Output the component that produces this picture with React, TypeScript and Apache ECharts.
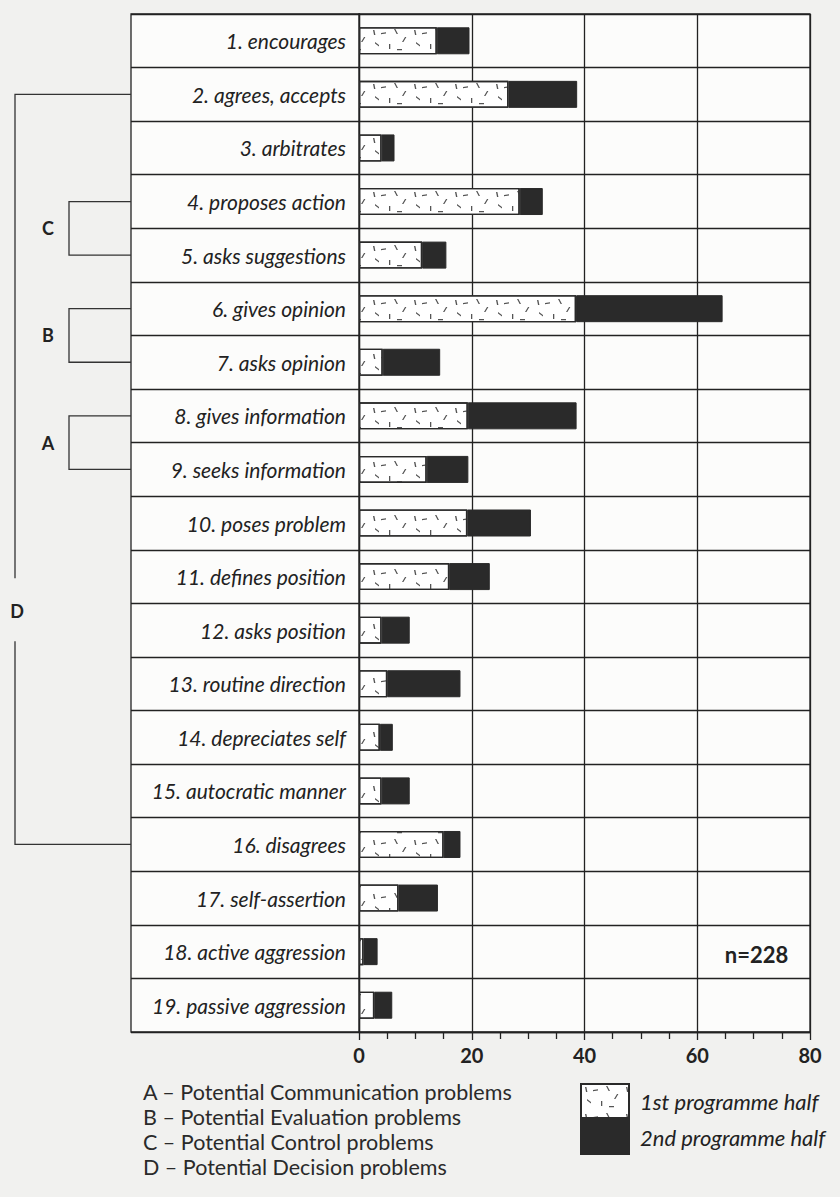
import React, { useEffect, useRef } from "react";
import * as echarts from "echarts";

const categories = [
  "1. encourages",
  "2. agrees, accepts",
  "3. arbitrates",
  "4. proposes action",
  "5. asks suggestions",
  "6. gives opinion",
  "7. asks opinion",
  "8. gives information",
  "9. seeks information",
  "10. poses problem",
  "11. defines position",
  "12. asks position",
  "13. routine direction",
  "14. depreciates self",
  "15. autocratic manner",
  "16. disagrees",
  "17. self-assertion",
  "18. active aggression",
  "19. passive aggression",
];
const firstHalf = [13.8, 26.5, 4, 28.5, 11.2, 38.5, 4.2, 19.3, 12, 19.2, 16, 4, 5, 3.7, 4, 15, 7, 0.8, 2.7];
const secondHalf = [5.8, 12.2, 2.3, 4.1, 4.3, 26, 10.2, 19.3, 7.4, 11.3, 7.2, 5, 13, 2.3, 5, 3, 7, 2.5, 3.2];
const seriesNames = ["1st programme half", "2nd programme half"];
const xTicks = [0, 20, 40, 60, 80];

// bracket groups: letter, first row index, last row index
const groupLetters = ["A", "B", "C", "D"];
const groupFrom = [7, 5, 3, 1];
const groupTo = [8, 6, 4, 15];
const groupNotes = [
  "A – Potential Communication problems",
  "B – Potential Evaluation problems",
  "C – Potential Control problems",
  "D – Potential Decision problems",
];
const sampleNote = "n=228";

const FONT = "Lato, 'Open Sans', sans-serif";
const INK = "#222";

const dashPath =
  "path://M0,0L0.1,0L0.1,0.1Z M39.9,25.9L40,25.9L40,26Z " +
  "M4,3L5.4,3L6.4,8L5,8Z M12,6L17,5.2L17,6.5L12,7.3Z M25,2L26.4,2L29,7L27.6,7Z " +
  "M36,10L37.4,10L34.4,15L33,15Z M6,15L10,18L10,19.4L6,16.4Z M20,17L21.3,17L21.3,22L20,22Z " +
  "M28,22L33,22L33,23.3L28,23.3Z";

export default function App() {
  const ref = useRef<HTMLDivElement>(null);
  useEffect(() => {
    if (!ref.current) return;
    const chart = echarts.init(ref.current, null, { renderer: "svg" });
    const gridTop = 14;
    const gridBottom = 165;
    chart.setOption({
      animation: false,
      backgroundColor: "#f1f1ef",
      grid: [
        {
          left: 359,
          right: 30,
          top: gridTop,
          bottom: gridBottom,
          show: true,
          borderColor: INK,
          borderWidth: 1.3,
          backgroundColor: "#fcfcfb",
        },
        {
          left: 131,
          width: 228,
          top: gridTop,
          bottom: gridBottom,
          show: true,
          borderColor: INK,
          borderWidth: 1.3,
          backgroundColor: "#fcfcfb",
        },
      ],
      xAxis: [
        {
          type: "value",
          gridIndex: 0,
          min: xTicks[0],
          max: xTicks[xTicks.length - 1],
          interval: 20,
          axisLine: { show: true, lineStyle: { color: INK, width: 1.3 } },
          axisTick: { show: true, length: 8, lineStyle: { color: INK, width: 1.3 } },
          minorTick: { show: true, splitNumber: 4, length: 7, lineStyle: { color: INK, width: 1.3 } },
          splitLine: { show: true, lineStyle: { color: INK, width: 1.3 } },
          axisLabel: {
            margin: 13,
            fontFamily: FONT,
            fontWeight: "bold",
            fontSize: 20,
            color: INK,
          },
        },
        { type: "value", gridIndex: 1, min: 0, max: 1, show: false },
      ],
      yAxis: [
        {
          type: "category",
          gridIndex: 0,
          data: categories,
          inverse: true,
          axisLine: { show: true, lineStyle: { color: INK, width: 1.3 } },
          axisTick: { show: false },
          splitLine: { show: true, interval: 0, lineStyle: { color: INK, width: 1.3 } },
          axisLabel: {
            interval: 0,
            margin: 13,
            fontFamily: FONT,
            fontStyle: "italic",
            fontSize: 21,
            color: INK,
          },
        },
        {
          type: "category",
          gridIndex: 1,
          data: categories,
          inverse: true,
          axisLine: { show: false },
          axisTick: { show: false },
          axisLabel: { show: false },
          splitLine: { show: true, interval: 0, lineStyle: { color: INK, width: 1.3 } },
        },
      ],
      legend: {
        orient: "vertical",
        left: 580,
        top: 1083,
        padding: 0,
        itemWidth: 48,
        itemHeight: 34,
        itemGap: 0,
        icon: "rect",
        selectedMode: false,
        data: seriesNames,
        textStyle: {
          fontFamily: FONT,
          fontStyle: "italic",
          fontSize: 22,
          color: INK,
          padding: [12, 0, 0, 6],
        },
      },
      series: [
        {
          name: seriesNames[0],
          type: "bar",
          stack: "total",
          barWidth: 27,
          data: firstHalf,
          itemStyle: {
            color: "#ffffff",
            borderColor: "#2a2a2a",
            borderWidth: 1.3,
            decal: {
              symbol: dashPath,
              symbolSize: 1,
              color: "#555",
              dashArrayX: [40, 1],
              dashArrayY: [26, 1],
            },
          },
        },
        {
          name: seriesNames[1],
          type: "bar",
          stack: "total",
          barWidth: 27,
          data: secondHalf,
          itemStyle: { color: "#2a2a2a", borderColor: "#2a2a2a", borderWidth: 1 },
        },
      ],
    });

    const rowY = (i: number) => chart.convertToPixel({ yAxisIndex: 0 }, categories[i]) as number;
    const boxLeft = 131;
    const graphics: any[] = [];
    const letterStyle = (letter: string) => ({
      text: letter,
      fontFamily: FONT,
      fontWeight: "bold",
      fontSize: 18,
      fill: INK,
      align: "center",
      verticalAlign: "middle",
    });
    groupLetters.forEach((letter, g) => {
      const y1 = rowY(groupFrom[g]);
      const y2 = rowY(groupTo[g]);
      if (letter === "D") {
        const x = 15;
        const yD = (rowY(10) + rowY(11)) / 2 + 8;
        graphics.push({
          type: "polyline",
          shape: { points: [[boxLeft, y1], [x, y1], [x, yD - 33]] },
          style: { stroke: "#333", lineWidth: 1.3, fill: null },
        });
        graphics.push({
          type: "polyline",
          shape: { points: [[x, yD + 30], [x, y2], [boxLeft, y2]] },
          style: { stroke: "#333", lineWidth: 1.3, fill: null },
        });
        graphics.push({ type: "text", x: x + 2, y: yD, style: letterStyle(letter) });
      } else {
        const x = 69;
        graphics.push({
          type: "polyline",
          shape: { points: [[boxLeft, y1], [x, y1], [x, y2], [boxLeft, y2]] },
          style: { stroke: "#333", lineWidth: 1.3, fill: null },
        });
        graphics.push({ type: "text", x: 48, y: (y1 + y2) / 2, style: letterStyle(letter) });
      }
    });
    const nPos = chart.convertToPixel({ gridIndex: 0 }, [70.5, categories[17]]) as number[];
    graphics.push({
      type: "text",
      x: nPos[0],
      y: nPos[1] + 3,
      style: {
        text: sampleNote,
        fontFamily: FONT,
        fontWeight: "bold",
        fontSize: 22,
        fill: INK,
        align: "center",
        verticalAlign: "middle",
      },
    });
    groupNotes.forEach((t, i) => {
      graphics.push({
        type: "text",
        x: 143,
        y: 1092 + i * 25,
        style: {
          text: t,
          fontFamily: FONT,
          fontSize: 21.5,
          fill: "#2a2a2a",
          align: "left",
          verticalAlign: "middle",
        },
      });
    });
    chart.setOption({ graphic: graphics });

    return () => chart.dispose();
  }, []);
  return (
    <div
      ref={ref}
      style={{ position: "absolute", left: 0, top: 0, width: 840, height: 1197 }}
    />
  );
}
